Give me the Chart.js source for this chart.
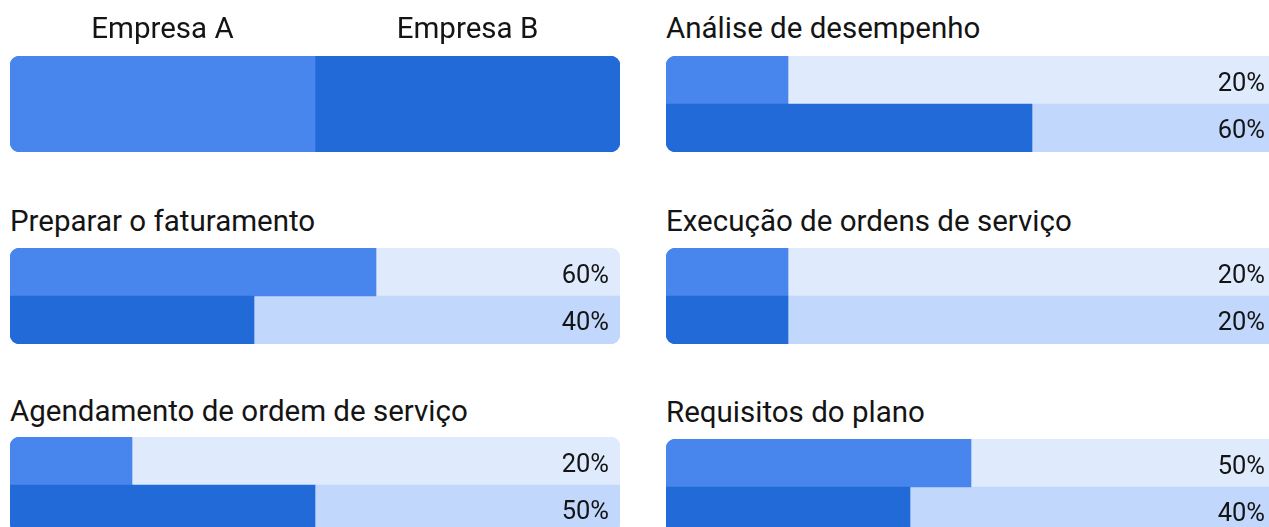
<!DOCTYPE html>
<html>
<head>
<meta charset="utf-8">
<script src="https://cdn.jsdelivr.net/npm/chart.js@4/dist/chart.umd.min.js"></script>
<style>
  html, body { margin: 0; padding: 0; background: #fff; width: 1269px; height: 527px; overflow: hidden; position: relative; }
  .title { position: absolute; font-family: Roboto, sans-serif; font-size: 29.5px; color: #141414; white-space: nowrap; line-height: 34px; }
  .box { position: absolute; width: 610px; }
</style>
</head>
<body>
<script>
const seriesNames = ['Empresa A', 'Empresa B'];
const categories = ['Análise de desempenho', 'Preparar o faturamento', 'Execução de ordens de serviço', 'Agendamento de ordem de serviço', 'Requisitos do plano'];
const empresaA = [20, 60, 20, 20, 50];
const empresaB = [60, 40, 20, 50, 40];
const legendShares = [50, 50];

const COL_A = '#4886ee', COL_B = '#236ad9', LIGHT_A = '#dfebfd', LIGHT_B = '#c1d8fc';
const R = 10;

// layout of panels: [left, titleTop, barTop]
const layout = [
  [666, 11, 56],
  [10, 204, 248],
  [666, 204, 248],
  [10, 394, 437],
  [666, 395, 439]
];

function addBox(left, top, h) {
  const d = document.createElement('div');
  d.className = 'box';
  d.style.left = left + 'px'; d.style.top = top + 'px'; d.style.height = h + 'px';
  const c = document.createElement('canvas');
  d.appendChild(c);
  document.body.appendChild(d);
  return c;
}

const pctLabels = {
  id: 'pctLabels',
  afterDatasetsDraw(chart) {
    const ctx = chart.ctx;
    const meta = chart.getDatasetMeta(0);
    ctx.save();
    ctx.font = '25.5px Roboto, sans-serif';
    ctx.fillStyle = '#141414';
    ctx.textAlign = 'right';
    ctx.textBaseline = 'alphabetic';
    meta.data.forEach((bar, i) => {
      ctx.fillText(chart.data.datasets[0].data[i] + '%', chart.chartArea.right - 11, bar.y + (i === 0 ? 11 : 10));
    });
    ctx.restore();
  }
};

const commonOpts = {
  indexAxis: 'y',
  responsive: true,
  maintainAspectRatio: false,
  animation: false,
  layout: { padding: 0 },
  plugins: { legend: { display: false }, tooltip: { enabled: false }, title: { display: false } },
  scales: {
    x: { stacked: true, min: 0, max: 100, display: false },
    y: { stacked: true, display: false }
  }
};

// legend panel
(function () {
  const c = addBox(10, 0, 152);
  new Chart(c, {
    type: 'bar',
    data: {
      labels: ['Empresas'],
      datasets: [
        { label: seriesNames[0], data: [legendShares[0]], backgroundColor: COL_A, borderSkipped: false,
          borderRadius: { topLeft: R, bottomLeft: R, topRight: 0, bottomRight: 0 }, barPercentage: 1, categoryPercentage: 1 },
        { label: seriesNames[1], data: [legendShares[1]], backgroundColor: COL_B, borderSkipped: false,
          borderRadius: { topLeft: 0, bottomLeft: 0, topRight: R, bottomRight: R }, barPercentage: 1, categoryPercentage: 1 }
      ]
    },
    options: Object.assign({}, commonOpts, { layout: { padding: { top: 56 } } }),
    plugins: [{
      id: 'legendLabels',
      afterDatasetsDraw(chart) {
        const ctx = chart.ctx;
        ctx.save();
        ctx.font = '29.5px Roboto, sans-serif';
        ctx.fillStyle = '#141414';
        ctx.textAlign = 'center';
        ctx.textBaseline = 'alphabetic';
        chart.data.datasets.forEach((ds, i) => {
          const bar = chart.getDatasetMeta(i).data[0];
          ctx.fillText(ds.label, (bar.base + bar.x) / 2, 38);
        });
        ctx.restore();
      }
    }]
  });
})();

categories.forEach((cat, k) => {
  const [left, tTop, bTop] = layout[k];
  const t = document.createElement('div');
  t.className = 'title';
  t.style.left = left + 'px'; t.style.top = tTop + 'px';
  t.textContent = cat;
  document.body.appendChild(t);

  const c = addBox(left, bTop, 96);
  const vals = [empresaA[k], empresaB[k]];
  const rest = vals.map(v => 100 - v);
  new Chart(c, {
    type: 'bar',
    data: {
      labels: seriesNames,
      datasets: [
        { label: 'valor', data: vals, backgroundColor: [COL_A, COL_B], borderSkipped: false,
          borderRadius: ctx => ctx.dataIndex === 0 ? { topLeft: R, bottomLeft: 0, topRight: 0, bottomRight: 0 } : { topLeft: 0, bottomLeft: R, topRight: 0, bottomRight: 0 },
          barPercentage: 1, categoryPercentage: 1 },
        { label: 'restante', data: rest, backgroundColor: [LIGHT_A, LIGHT_B], borderSkipped: false,
          borderRadius: ctx => ctx.dataIndex === 0 ? { topLeft: 0, bottomLeft: 0, topRight: R, bottomRight: 0 } : { topLeft: 0, bottomLeft: 0, topRight: 0, bottomRight: R },
          barPercentage: 1, categoryPercentage: 1 }
      ]
    },
    options: commonOpts,
    plugins: [pctLabels]
  });
});
</script>
</body>
</html>
